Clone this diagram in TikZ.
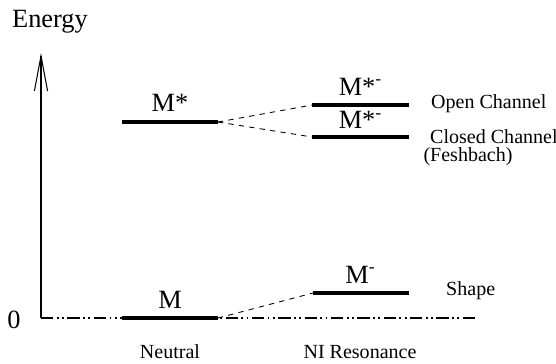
\documentclass[tikz,border=0pt]{standalone}
\usepackage{fontspec}
\setmainfont{Liberation Serif}
\usetikzlibrary{arrows.meta}

\newcommand{\chg}{\raisebox{0.85ex}{\fontsize{10}{10}\selectfont -}}

\begin{document}
\begin{tikzpicture}[
  level/.style={line width=1.8pt},
  link/.style={dashed, line width=0.5pt},
  big/.style={font=\fontsize{15}{17}\selectfont},
  small/.style={font=\fontsize{11.4}{13}\selectfont}
]
\useasboundingbox (0.0,0.0) rectangle (11.12,7.26);

% axes
\coordinate (origin) at (0.82,0.9);
\coordinate (top) at (0.82,6.2);
\coordinate (zeroend) at (9.5,0.9);
\draw[line width=0.6pt, -{Straight Barb[length=20pt,width=7.5pt]}] (origin) -- (top);
\draw[line width=0.6pt, dash pattern=on 7pt off 2pt on 1pt off 2pt on 1pt off 2pt] (origin) -- (zeroend);
\node[big] (energy) at (1.0,6.82) {Energy};
\node[big] (zero) at (0.28,0.86) {0};

% neutral levels
\coordinate (m0L) at (2.44,0.9);
\coordinate (m0R) at (4.36,0.9);
\coordinate (msL) at (2.44,4.82);
\coordinate (msR) at (4.36,4.82);
\draw[level] (m0L) -- (m0R);
\draw[level] (msL) -- (msR);
\node[big] (mlabel) at (3.4,1.27) {M};
\node[big] (mslabel) at (3.4,5.2) {M*};

% resonance levels
\coordinate (ocL) at (6.24,5.16);
\coordinate (ocR) at (8.18,5.16);
\coordinate (ccL) at (6.24,4.52);
\coordinate (ccR) at (8.18,4.52);
\coordinate (shL) at (6.26,1.4);
\coordinate (shR) at (8.18,1.4);
\draw[level] (ocL) -- (ocR);
\draw[level] (ccL) -- (ccR);
\draw[level] (shL) -- (shR);
\node[big] (oclabel) at (7.2,5.53) {M*\chg};
\node[big] (cclabel) at (7.2,4.86) {M*\chg};
\node[big] (shlabel) at (7.2,1.77) {M\chg};

% connectors
\draw[link] (msR) -- (ocL);
\draw[link] (msR) -- (ccL);
\draw[link] (m0R) -- (shL);

% channel names
\node[small, anchor=west] (open) at (8.5,5.18) {Open Channel};
\node[small, anchor=west] (closed) at (8.48,4.52) {Closed Channel};
\node[small] (feshbach) at (9.36,4.12) {(Feshbach)};
\node[small, anchor=west] (shape) at (8.8,1.44) {Shape};

\node[small] (neutral) at (3.4,0.22) {Neutral};
\node[small] (niresonance) at (7.2,0.22) {NI Resonance};
\end{tikzpicture}
\end{document}
